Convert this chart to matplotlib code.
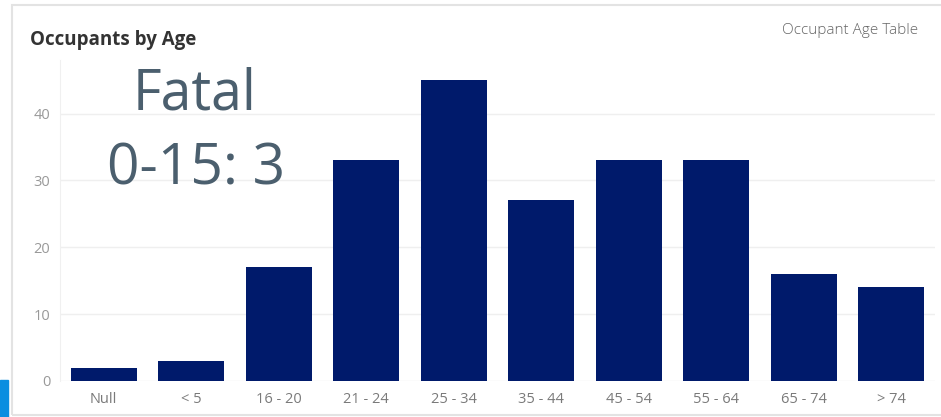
import matplotlib
matplotlib.use("Agg")
import matplotlib.pyplot as plt
from matplotlib.patches import Rectangle
from matplotlib.transforms import ScaledTranslation

AGE_GROUPS = ["Null", "< 5", "16 - 20", "21 - 24", "25 - 34",
              "35 - 44", "45 - 54", "55 - 64", "65 - 74", "> 74"]
OCCUPANTS = [2, 3, 17, 33, 45, 27, 33, 33, 16, 14]
Y_TICKS = [0, 10, 20, 30, 40]

BAR_COLOR = "#001a6b"
NOTE_COLOR = "#4b5f6e"

fig = plt.figure(figsize=(9.41, 4.17), dpi=100)
fig.patch.set_facecolor("white")

# Dashboard frame and the blue tab at bottom left.
fig.patches.append(Rectangle((12 / 941, 2 / 417), 935 / 941, 410 / 417,
                             transform=fig.transFigure, fill=False,
                             edgecolor="#e3e3e3", linewidth=1.5))
fig.patches.append(Rectangle((0, 0), 8 / 941, 37 / 417,
                             transform=fig.transFigure, color="#0a8ee0"))

ax = fig.add_axes([60 / 941, 36 / 417, 875 / 941, 321 / 417])
x = range(len(AGE_GROUPS))
ax.bar(x, OCCUPANTS, width=0.755, color=BAR_COLOR, zorder=3)

ax.set_xlim(-0.5, len(AGE_GROUPS) - 0.5)
ax.set_ylim(0, 48)
ax.set_yticks(Y_TICKS)
ax.set_xticks(list(x))
ax.set_xticklabels(AGE_GROUPS, fontsize=10.5, color="#7a7a7a", family="Open Sans")
for lbl in ax.get_yticklabels():
    lbl.set_fontsize(10.5)
    lbl.set_color("#999999")
    lbl.set_family("Open Sans")
# Tableau lifts the zero label a little above the baseline.
zero = ax.get_yticklabels()[0]
zero.set_transform(zero.get_transform() + ScaledTranslation(0, 0.06, fig.dpi_scale_trans))
ax.tick_params(length=0)
ax.tick_params(axis="x", pad=8)
ax.tick_params(axis="y", pad=7)
ax.grid(axis="y", color="#efefef", linewidth=1, zorder=0)

for side in ["top", "right", "bottom"]:
    ax.spines[side].set_visible(False)
ax.spines["left"].set_color("#f0f0f0")

fig.text(30 / 941, 1 - 40 / 417, "Occupants by Age", fontsize=13.5,
         fontweight="bold", color="#333333", family="Open Sans", va="center")
fig.text(918 / 941, 1 - 31 / 417, "Occupant Age Table", fontsize=11,
         fontweight="light", color="#666666", family="Open Sans",
         ha="right", va="center")

ax.text(0.154, 0.892, "Fatal", transform=ax.transAxes, fontsize=40,
        color=NOTE_COLOR, family="Open Sans", ha="center", va="center")
ax.text(0.156, 0.656, "0-15: 3", transform=ax.transAxes, fontsize=41,
        color=NOTE_COLOR, family="Open Sans", ha="center", va="center")

plt.savefig("out.png", dpi=100)
